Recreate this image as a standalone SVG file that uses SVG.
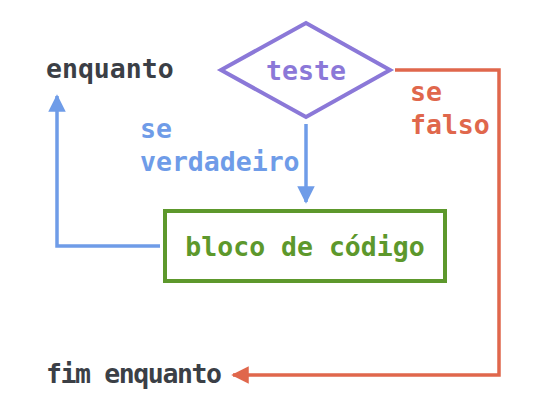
<svg xmlns="http://www.w3.org/2000/svg" width="546" height="411" viewBox="0 0 546 411">
<style>
text{font-family:"DejaVu Sans Mono","Liberation Mono",monospace;font-weight:bold;font-size:26.5px}
.dark{fill:#3b3f46}
.blue{fill:#6f9ce8}
.red{fill:#e0674c}
.green{fill:#5d982c}
.purple{fill:#8b78d8}
</style>
<defs>
<marker id="ab" viewBox="0 0 10 10" refX="9" refY="5" markerWidth="5" markerHeight="5" orient="auto" markerUnits="strokeWidth"><path d="M0,0 L10,5 L0,10 z" fill="#6f9ce8"/></marker>
<marker id="ar" viewBox="0 0 10 10" refX="9" refY="5" markerWidth="5" markerHeight="5" orient="auto" markerUnits="strokeWidth"><path d="M0,0 L10,5 L0,10 z" fill="#e0674c"/></marker>
</defs>
<g id="connectors" fill="none" stroke-width="3.5">
<path d="M306,124 V202" stroke="#6f9ce8" marker-end="url(#ab)"/>
<path d="M160,246 H57 V96" stroke="#6f9ce8" marker-end="url(#ab)"/>
<path d="M395,70 H499 V375 H233" stroke="#e0674c" marker-end="url(#ar)"/>
</g>
<g id="labels">
<text class="blue" x="140" y="138">se</text>
<text class="blue" x="140" y="171">verdadeiro</text>
<text class="red" x="410" y="101">se</text>
<text class="red" x="410" y="134">falso</text>
</g>
<g id="enquanto"><text class="dark" x="46" y="78">enquanto</text></g>
<g id="teste">
<polygon points="221,70 306,23 390,70 306,117" fill="none" stroke="#8b78d8" stroke-width="4"/>
<text class="purple" x="306" y="80" text-anchor="middle">teste</text>
</g>
<g id="bloco">
<rect x="165" y="211" width="280" height="70" fill="none" stroke="#5d982c" stroke-width="4"/>
<text class="green" x="305" y="256" text-anchor="middle">bloco de código</text>
</g>
<g id="fim"><text class="dark" x="46" y="383" textLength="176" lengthAdjust="spacing">fim enquanto</text></g>
</svg>
